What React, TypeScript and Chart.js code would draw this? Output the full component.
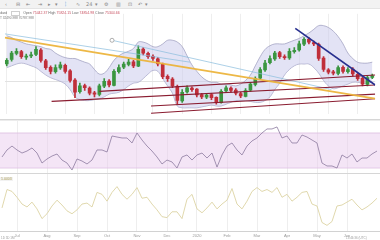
import React, { useEffect, useRef } from "react";
import { Chart, registerables } from "chart.js";
Chart.register(...registerables);

// ---------- data ----------
const monthLabels = ["Jul", "Aug", "Sep", "Oct", "Nov", "Dec", "2020", "Feb", "Mar", "Apr", "May", "Jun"];
const monthStartIndex = [3, 9, 15, 21, 27, 33, 39, 45, 51, 57, 63, 69];

const openPrices = [
  73300, 73550, 73880, 73980, 73680, 73740, 73820, 74060, 73480, 73120,
  72880, 73080, 73230, 72920, 72420, 71780, 72120, 71980, 71720, 71630,
  72080, 72370, 72130, 72880, 73120, 73280, 73420, 73180, 74120, 73880,
  73720, 73580, 73280, 72620, 72480, 72080, 71280, 71770, 71980, 71920,
  71620, 71480, 71620, 71470, 71180, 71820, 71980, 71870, 71680, 71530,
  71870, 72180, 72520, 72980, 73370, 73580, 73920, 73680, 73630, 73980,
  74070, 74380, 74670, 74480, 74380, 73620, 72980, 72870, 72780, 73120,
  72880, 73020, 72730, 72520, 72180, 72570,
];
const highPrices = [
  73600, 74000, 74150, 74050, 73850, 73950, 74250, 74150, 73550, 73200,
  73250, 73400, 73300, 73000, 72500, 72250, 72200, 72050, 71800, 72200,
  72500, 72450, 73000, 73250, 73400, 73550, 73500, 74300, 74200, 73950,
  73800, 73650, 73350, 72700, 72550, 72150, 71900, 72100, 72050, 71950,
  71700, 71700, 71700, 71500, 71900, 72100, 72050, 71950, 71750, 71950,
  72300, 72600, 73100, 73500, 73750, 74000, 74000, 73800, 74150, 74200,
  74550, 74750, 74750, 74550, 74450, 73700, 73050, 72950, 73200, 73200,
  73100, 73100, 72800, 72600, 72650, 72750,
];
const lowPrices = [
  73200, 73450, 73800, 73600, 73550, 73650, 73750, 73400, 73000, 72750,
  72800, 73000, 72800, 72300, 71450, 71700, 71850, 71600, 71500, 71550,
  72000, 72050, 72100, 72800, 73050, 73200, 73100, 73150, 73800, 73600,
  73500, 73200, 72500, 72350, 72000, 71100, 71200, 71700, 71800, 71500,
  71400, 71400, 71350, 71100, 71150, 71750, 71750, 71600, 71450, 71500,
  71800, 72100, 72450, 72900, 73300, 73500, 73600, 73550, 73550, 73900,
  74000, 74300, 74400, 74300, 73500, 72900, 72750, 72700, 72700, 72800,
  72800, 72650, 72400, 72100, 72100, 72500,
];
const closePrices = [
  73500, 73900, 74000, 73700, 73720, 73800, 74100, 73500, 73100, 72900,
  73100, 73250, 72900, 72400, 71750, 72100, 72000, 71700, 71650, 72100,
  72350, 72150, 72900, 73100, 73300, 73400, 73200, 74100, 73900, 73700,
  73600, 73300, 72600, 72500, 72100, 71300, 71750, 72000, 71900, 71600,
  71500, 71600, 71450, 71200, 71800, 72000, 71850, 71700, 71550, 71850,
  72200, 72500, 73000, 73350, 73600, 73900, 73700, 73650, 74000, 74050,
  74400, 74650, 74500, 74400, 73600, 73000, 72850, 72800, 73100, 72900,
  73000, 72750, 72500, 72200, 72550, 72650,
];
const bbUpper = [
  74850, 74750, 74600, 74500, 74400, 74350, 74300, 74250, 74150, 74100,
  73900, 73750, 73650, 73600, 73600, 73500, 73400, 73300, 73000, 72750,
  72800, 73100, 73500, 73750, 73900, 74000, 74150, 74500, 74500, 74400,
  74250, 74250, 74400, 74600, 74600, 74500, 74250, 73750, 73250, 72900,
  72600, 72400, 72300, 72300, 72200, 72200, 72150, 72100, 72200, 72400,
  72700, 73200, 73700, 74100, 74300, 74400, 74400, 74400, 74500, 74600,
  74700, 74850, 75000, 75200, 75400, 75400, 75300, 75100, 74800, 74400,
  73900, 73600, 73400, 73350, 73350, 73400,
];
const bbLower = [
  73100, 73200, 73300, 73350, 73300, 73200, 73100, 72900, 72700, 72550,
  72450, 72350, 72200, 71900, 71500, 71350, 71300, 71300, 71350, 71400,
  71500, 71650, 71700, 71750, 71900, 72100, 72250, 72300, 72500, 72750,
  72950, 72900, 72500, 72100, 71700, 71000, 70900, 70900, 70900, 70900,
  70950, 71000, 71050, 71000, 71000, 71100, 71200, 71300, 71300, 71300,
  71250, 71200, 71200, 71300, 71500, 71900, 72250, 72700, 73000, 73200,
  73300, 73300, 73300, 73100, 72800, 72400, 72100, 71950, 72000, 72100,
  72200, 72300, 72300, 72250, 72250, 72300,
];
const rsiValues = [
  42.6, 50.6, 55.1, 50.6, 47.1, 49.4, 52.9, 47.1, 35.7, 40.3,
  43.7, 46.0, 39.1, 35.7, 27.7, 40.3, 38.0, 34.6, 39.1, 50.6,
  50.6, 48.3, 66.6, 65.4, 64.3, 64.3, 58.6, 70.0, 62.0, 55.1,
  49.4, 42.6, 34.6, 39.1, 36.9, 30.0, 42.6, 44.9, 39.1, 44.9,
  47.1, 41.4, 47.1, 31.1, 44.9, 55.1, 58.6, 50.6, 44.9, 55.1,
  60.9, 64.3, 70.0, 74.6, 74.6, 76.9, 64.3, 66.6, 58.6, 58.6,
  67.7, 65.4, 62.0, 58.6, 35.7, 32.3, 32.3, 30.0, 44.9, 41.4,
  46.0, 36.9, 41.4, 41.4, 46.0, 49.4,
];
const rsiLevels = [70, 30];
const oscValues = [
  0.925, 1.02, 1.01, 0.98, 0.945, 0.93, 0.955, 0.92, 0.87, 0.895,
  0.935, 0.965, 0.94, 0.91, 0.895, 0.915, 0.945, 0.95, 0.93, 1.005,
  0.995, 0.96, 1.005, 1.035, 0.995, 0.97, 0.995, 1.03, 0.975, 0.98,
  0.945, 0.915, 0.88, 0.875, 0.905, 0.905, 0.87, 0.97, 0.995, 0.92,
  0.9, 0.925, 0.955, 0.92, 0.945, 0.965, 1.025, 0.945, 0.92, 0.96,
  1.01, 1.03, 1.01, 1.02, 1.005, 1.03, 0.98, 0.995, 0.96, 0.98,
  1.005, 1.01, 0.945, 0.935, 0.85, 0.835, 0.855, 0.935, 0.94, 0.955,
  0.97, 0.94, 0.915, 0.93, 0.95, 0.975,
];
const priceGridLevels = [72350];

// drawn trend lines: [candle index, price] anchors
const goldTrend = [[-0.4, 74750], [75.6, 71400]];
const blueTrendA = [[-0.4, 74950], [37.6, 73400]];
const blueTrendB = [[21.6, 74600], [66.6, 71900]];
const navyTrend = [[59.2, 75250], [75.6, 72150]];
const maroonTrends = [
  [[19, 71800], [75.6, 72700]],
  [[9.2, 71250], [75.6, 72150]],
  [[29.6, 71000], [75.6, 71650]],
  [[29.6, 70600], [75.6, 71400]],
];

const X_MIN = -0.4;
const X_MAX = 75.6;
const UP = "#3a9640";
const DOWN = "#c02f3a";
const FONT = '"Liberation Sans", Arial, sans-serif';

function xAxis(showLabels: boolean) {
  return {
    type: "linear",
    min: X_MIN,
    max: X_MAX,
    offset: false,
    display: true,
    grid: { color: "#eeeeee", lineWidth: 1, drawTicks: false },
    border: { display: showLabels, color: "#d2d2d2" },
    ticks: {
      display: showLabels,
      autoSkip: false,
      maxRotation: 0,
      padding: 2,
      font: { size: 4, family: FONT },
      color: "#9a9a9a",
      callback: (_v: any, i: number) => monthLabels[i] ?? "",
    },
    afterBuildTicks: (s: any) => {
      s.ticks = monthStartIndex.map((v) => ({ value: v }));
    },
  };
}

const pts = (arr: number[]) => arr.map((y, i) => ({ x: i, y }));
const seg = (a: number[][]) => a.map(([x, y]) => ({ x, y }));

const baseOpts = {
  responsive: false,
  animation: false,
  devicePixelRatio: 1,
  events: [],
  layout: { padding: 0 },
  plugins: { legend: { display: false }, tooltip: { enabled: false } },
};

export default function App() {
  const mainRef = useRef<HTMLCanvasElement>(null);
  const rsiRef = useRef<HTMLCanvasElement>(null);
  const oscRef = useRef<HTMLCanvasElement>(null);

  useEffect(() => {
    const charts: Chart[] = [];
    const colors = closePrices.map((c, i) => (c >= openPrices[i] ? UP : DOWN));

    const lineDs = (data: any[], color: string, width: number, order: number, extra: any = {}) => ({
      type: "line",
      data,
      borderColor: color,
      borderWidth: width,
      pointRadius: 0,
      fill: false,
      order,
      ...extra,
    });

    charts.push(
      new Chart(mainRef.current!, {
        type: "bar",
        data: {
          datasets: [
            lineDs(pts(bbUpper), "rgba(150,150,185,0.85)", 0.8, 10, {
              fill: "+1",
              backgroundColor: "rgba(200,200,236,0.5)",
              tension: 0.4,
            }),
            lineDs(pts(bbLower), "rgba(150,150,185,0.85)", 0.8, 10, { tension: 0.4 }),
            {
              type: "bar",
              data: lowPrices.map((l, i) => ({ x: i, y: [l, highPrices[i]] })),
              backgroundColor: colors,
              barThickness: 1,
              grouped: false,
              order: 6,
            },
            {
              type: "bar",
              data: openPrices.map((o, i) => ({ x: i, y: [o, closePrices[i]] })),
              backgroundColor: colors,
              barThickness: 3,
              minBarLength: 1,
              grouped: false,
              order: 5,
            },
            lineDs(seg(blueTrendA), "rgba(140,190,222,0.9)", 0.8, 2),
            lineDs(seg(blueTrendB), "rgba(140,190,222,0.9)", 0.8, 2, {
              pointRadius: [2, 0],
              pointBackgroundColor: "#ffffff",
              pointBorderColor: "#9a9a9a",
              pointBorderWidth: 0.8,
            }),
            lineDs(seg(goldTrend), "rgba(236,180,60,0.95)", 1.8, 1),
            ...maroonTrends.map((t) => lineDs(seg(t), "#8a1c30", 1.1, 1)),
            lineDs(seg(navyTrend), "#28308f", 1.6, 0),
          ],
        },
        options: {
          ...baseOpts,
          scales: {
            x: xAxis(false),
            y: {
              min: 70550,
              max: 76050,
              display: true,
              grid: { color: "#e2e2e2", drawTicks: false },
              border: { display: false },
              ticks: { display: false },
              afterBuildTicks: (s: any) => {
                s.ticks = priceGridLevels.map((v) => ({ value: v }));
              },
            },
          },
        } as any,
      } as any)
    );

    charts.push(
      new Chart(rsiRef.current!, {
        type: "line",
        data: {
          datasets: [
            lineDs(seg([[X_MIN, rsiLevels[0]], [X_MAX, rsiLevels[0]]]), "#dcbedf", 0.8, 5, {
              fill: "+1",
              backgroundColor: "rgba(230,198,234,0.45)",
            }),
            lineDs(seg([[X_MIN, rsiLevels[1]], [X_MAX, rsiLevels[1]]]), "#dcbedf", 0.8, 5),
            lineDs(pts(rsiValues), "#8d7b9f", 0.8, 1),
          ],
        },
        options: {
          ...baseOpts,
          scales: {
            x: xAxis(false),
            y: { min: 24.3, max: 83.7, display: false },
          },
        } as any,
      } as any)
    );

    charts.push(
      new Chart(oscRef.current!, {
        type: "line",
        data: {
          datasets: [lineDs(pts(oscValues), "#dcd4a4", 0.9, 1)],
        },
        options: {
          ...baseOpts,
          scales: {
            x: xAxis(true),
            y: { min: 0.805, max: 1.1, display: false },
          },
        } as any,
      } as any)
    );

    return () => charts.forEach((c) => c.destroy());
  }, []);

  const toolIcons = [
    [7, "‹"], [18, "⊟"], [28, "⇤"], [40, "⇥"], [50, "▸"], [57, "▾"], [67, "⫶"],
    [78, "∿"], [88, "24"], [97, "▾"], [106, "⚙"], [118, "▥"], [130, "⊡"], [140, "↶"], [147, "▾"],
  ] as [number, string][];

  const abs = (o: any) => ({ position: "absolute", ...o });

  return (
    <div
      style={{
        position: "fixed",
        left: 0,
        top: 0,
        width: 380,
        height: 240,
        background: "#ffffff",
        overflow: "hidden",
        fontFamily: FONT,
      }}
    >
      <div style={abs({ left: 0, top: 0, width: 380, height: 8, background: "#f2f2f2", borderBottom: "1px solid #e4e4e4" })}>
        {toolIcons.map(([x, t], i) => (
          <span
            key={i}
            style={abs({
              left: x - 2,
              top: 1,
              fontSize: 5,
              lineHeight: "6px",
              color: i === 6 ? "#4a7fc0" : "#8a8a8a",
              background: i === 6 ? "#dce7f5" : "transparent",
              fontFamily: '"DejaVu Sans", sans-serif',
            })}
          >
            {t}
          </span>
        ))}
      </div>

      <canvas ref={mainRef} width={380} height={110} style={abs({ left: 0, top: 9, display: "block" })} />
      <div style={abs({ left: 0, top: 119, width: 380, height: 1, background: "#d6d6d6" })} />
      <div style={abs({ left: 0, top: 120, width: 380, height: 1, background: "#ececec" })} />
      <canvas ref={rsiRef} width={380} height={52} style={abs({ left: 0, top: 121, display: "block" })} />
      <div style={abs({ left: 0, top: 173, width: 380, height: 1, background: "#d6d6d6" })} />
      <canvas ref={oscRef} width={380} height={66} style={abs({ left: 0, top: 174, display: "block" })} />

      <div
        style={abs({
          left: -7,
          top: 11,
          fontSize: 3.5,
          lineHeight: "4px",
          color: "#6a6a6a",
          whiteSpace: "nowrap",
        })}
      >
        Standard{" "}
        <span style={{ display: "inline-block", width: 7, height: 3, border: "0.5px solid #cfcfcf", margin: "0 3px", verticalAlign: "middle" }} />
        Open <span style={{ color: "#c85060" }}>75442.37</span> High <span style={{ color: "#c85060" }}>75824.15</span> Low{" "}
        <span style={{ color: "#c85060" }}>74854.98</span> Close <span style={{ color: "#c85060" }}>75344.66</span>
      </div>
      <div style={abs({ left: 0, top: 16, fontSize: 3.2, lineHeight: "4px", color: "#7a7a7a", whiteSpace: "nowrap" })}>
        T 32490.988 70787.988
      </div>

      <div style={abs({ left: 0, top: 177, fontSize: 3.5, lineHeight: "4px", color: "#a89a50", background: "#f2f2f2", padding: "0 1px" })}>
        1.0403
      </div>
      <div style={abs({ left: 1, top: 236, fontSize: 3, lineHeight: "4px", color: "#9a9a9a", whiteSpace: "nowrap" })}>
        1D 5D 1M
      </div>
      <div style={abs({ left: 346, top: 236, fontSize: 3, lineHeight: "4px", color: "#9a9a9a", whiteSpace: "nowrap" })}>
        13:46:36 (UTC)
      </div>
    </div>
  );
}
